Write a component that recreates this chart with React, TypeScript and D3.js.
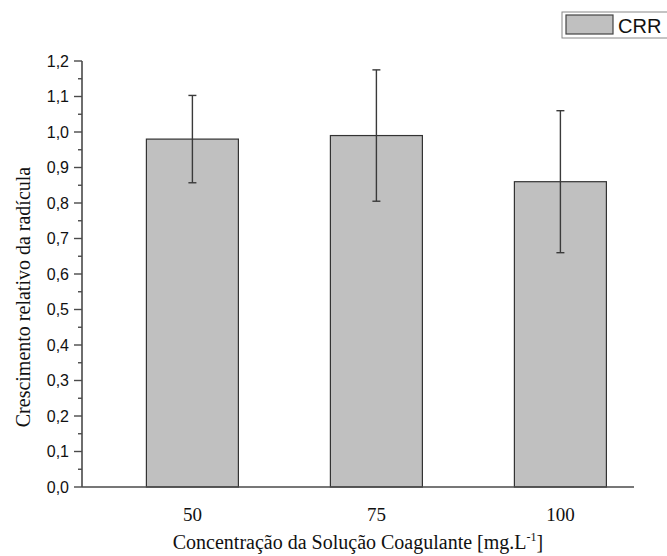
import React from "react";
import * as d3 from "d3";

const categories = ["50", "75", "100"];
const means = [0.98, 0.99, 0.86];
const errors = [0.123, 0.185, 0.2];
const yTicks = [0, 0.1, 0.2, 0.3, 0.4, 0.5, 0.6, 0.7, 0.8, 0.9, 1.0, 1.1, 1.2];
const seriesName = "CRR";

const W = 667;
const H = 556;
const left = 82;
const right = 634;
const top = 61;
const bottom = 487;

export default function App() {
  const x = d3.scaleLinear().domain([0.4, 3.4]).range([left, right]);
  const y = d3.scaleLinear().domain([0, 1.2]).range([bottom, top]);
  const barW = x(1.5) - x(1);
  const minorTicks = d3.range(0.05, 1.2, 0.1);
  const fmt = (v: number) => v.toFixed(1).replace(".", ",");
  const axisColor = "#4a4a4a";
  const serif = "'Liberation Serif', 'Times New Roman', serif";

  return (
    <svg
      width={W}
      height={H}
      style={{ position: "absolute", left: 0, top: 0, background: "#fff" }}
      fontFamily="'Liberation Sans', Arial, sans-serif"
    >
      {/* bars */}
      {means.map((m, i) => (
        <rect
          key={"b" + i}
          x={x(i + 1) - barW / 2}
          y={y(m)}
          width={barW}
          height={y(0) - y(m)}
          fill="#c0c0c0"
          stroke="#333"
          strokeWidth={1.2}
        />
      ))}
      {/* error bars */}
      {means.map((m, i) => {
        const cx = x(i + 1);
        const y1 = y(m + errors[i]);
        const y2 = y(m - errors[i]);
        return (
          <g key={"e" + i} stroke="#3a3a3a" strokeWidth={1.4}>
            <line x1={cx} x2={cx} y1={y1} y2={y2} />
            <line x1={cx - 4} x2={cx + 4} y1={y1} y2={y1} />
            <line x1={cx - 4} x2={cx + 4} y1={y2} y2={y2} />
          </g>
        );
      })}
      {/* y axis */}
      <line x1={left} x2={left} y1={top} y2={bottom} stroke={axisColor} strokeWidth={1.6} />
      {yTicks.map((t) => (
        <g key={"t" + t}>
          <line x1={left - 8} x2={left} y1={y(t)} y2={y(t)} stroke={axisColor} strokeWidth={1.4} />
          <text x={left - 13} y={y(t)} dy="0.35em" textAnchor="end" fontSize={16} fill="#111">
            {fmt(t)}
          </text>
        </g>
      ))}
      {minorTicks.map((t) => (
        <line key={"m" + t} x1={left - 4} x2={left} y1={y(t)} y2={y(t)} stroke={axisColor} strokeWidth={1.4} />
      ))}
      {/* x axis */}
      <line x1={left} x2={right} y1={bottom} y2={bottom} stroke={axisColor} strokeWidth={1.6} />
      {categories.map((c, i) => (
        <text
          key={"c" + c}
          x={x(i + 1)}
          y={521}
          textAnchor="middle"
          fontFamily={serif}
          fontSize={19}
          fill="#111"
        >
          {c}
        </text>
      ))}
      {/* axis titles */}
      <text x={358} y={549} textAnchor="middle" fontFamily={serif} fontSize={20} fill="#111">
        Concentração da Solução Coagulante [mg.L
        <tspan dy={-8} fontSize={12}>-1</tspan>
        <tspan dy={8}>]</tspan>
      </text>
      <text
        transform={`translate(30, 297) rotate(-90)`}
        textAnchor="middle"
        fontFamily={serif}
        fontSize={20}
        fill="#111"
      >
        Crescimento relativo da radícula
      </text>
      {/* legend */}
      <rect x={562} y={12} width={110} height={26} fill="#fff" stroke="#888" strokeWidth={1} />
      <rect x={566} y={15} width={47} height={19} fill="#c0c0c0" stroke="#444" strokeWidth={1.2} />
      <text x={618} y={33} fontSize={20} fill="#111">
        {seriesName}
      </text>
    </svg>
  );
}
